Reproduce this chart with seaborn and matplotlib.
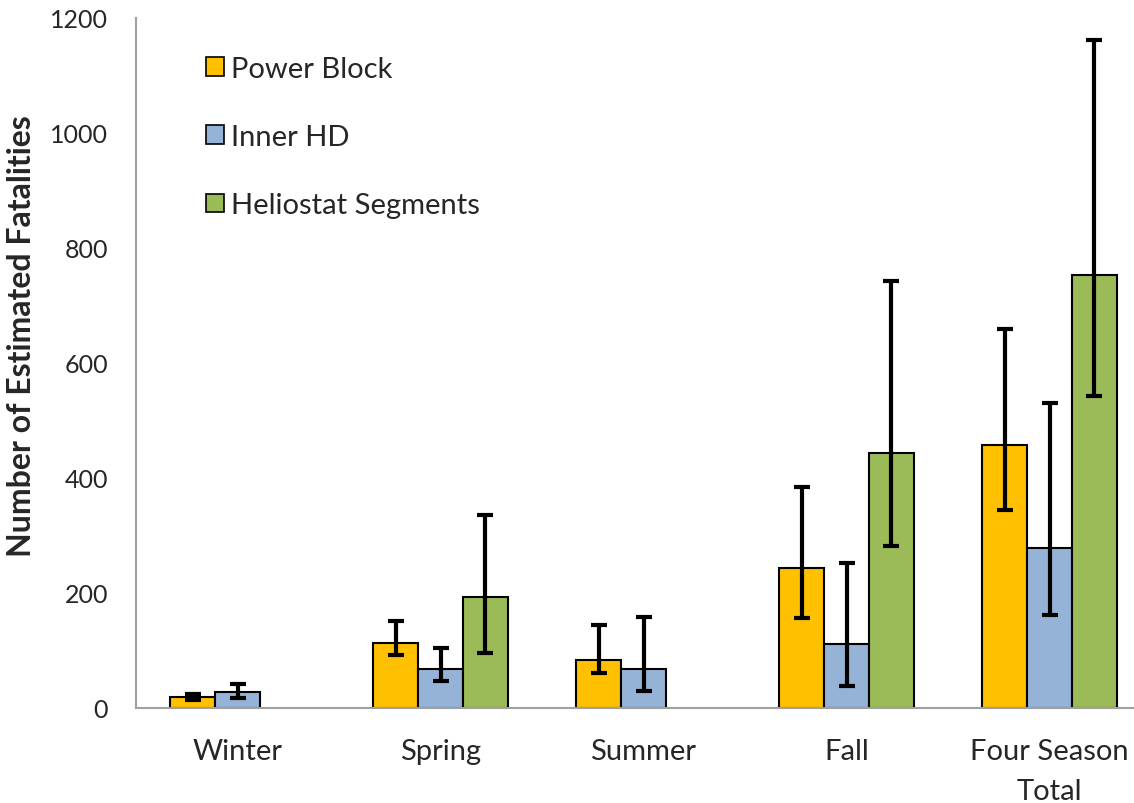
import matplotlib
matplotlib.use("Agg")
import matplotlib.pyplot as plt
import seaborn as sns
import pandas as pd
import numpy as np
from matplotlib.patches import Patch

seasons = ["Winter", "Spring", "Summer", "Fall", "Four Season\nTotal"]
series = ["Power Block", "Inner HD", "Heliostat Segments"]

power_block = [19, 113, 84, 243, 457]
power_block_lo = [14, 92, 61, 156, 345]
power_block_hi = [25, 152, 144, 385, 659]

inner_hd = [27, 68, 67, 112, 278]
inner_hd_lo = [17, 47, 30, 38, 161]
inner_hd_hi = [41, 105, 159, 252, 531]

heliostat = [np.nan, 193, np.nan, 443, 753]
heliostat_lo = [np.nan, 95, np.nan, 282, 543]
heliostat_hi = [np.nan, 336, np.nan, 742, 1161]

colors = ["#FFC000", "#95B3D7", "#9BBB59"]

vals = {"Power Block": (power_block, power_block_lo, power_block_hi),
        "Inner HD": (inner_hd, inner_hd_lo, inner_hd_hi),
        "Heliostat Segments": (heliostat, heliostat_lo, heliostat_hi)}

rows = []
for s in series:
    v, lo, hi = vals[s]
    for i, c in enumerate(seasons):
        if not np.isnan(v[i]):
            rows.append({"season": c, "series": s, "value": v[i], "lo": lo[i], "hi": hi[i]})
df = pd.DataFrame(rows)

sns.set_style("white")
plt.rcParams["font.family"] = ["Lato", "DejaVu Sans"]

fig = plt.figure(figsize=(11.34, 8.04), dpi=100)
ax = fig.add_axes([136/1134, 95/804, 1015/1134, 690/804])

sns.barplot(data=df, x="season", y="value", hue="series", order=seasons,
            hue_order=series, palette=colors, saturation=1, width=0.665, errorbar=None,
            edgecolor="black", linewidth=1.5, ax=ax, legend=False)

# error bars
for cont, s in zip(ax.containers, series):
    v, lo, hi = vals[s]
    for bar in cont:
        h = bar.get_height()
        if np.isnan(h):
            continue
        xc = bar.get_x() + bar.get_width() / 2
        i = int(round(xc))
        ax.errorbar(xc, v[i], yerr=[[v[i] - lo[i]], [hi[i] - v[i]]],
                    fmt="none", ecolor="black", elinewidth=3, capsize=6,
                    capthick=3, zorder=5)

ax.set_xlim(-0.5, 4.5)
ax.set_ylim(0, 1200)
ax.set_yticks(range(0, 1201, 200))
ax.set_xlabel("")
ax.set_ylabel("Number of Estimated Fatalities", fontsize=23, fontweight="bold")
ax.yaxis.set_label_coords(-100/1015, (709 - 336) / 690)

ax.set_xticks(range(len(seasons)))
ax.set_xticklabels(seasons, fontsize=21, linespacing=1.65)
ax.set_xticks(np.arange(-0.5, 4.6, 1.0), minor=True)
ax.tick_params(axis="x", which="major", length=0, pad=21.5)
ax.tick_params(axis="x", which="minor", length=8, width=1.2, color="#A0A0A0", direction="out")
ax.tick_params(axis="y", length=8, width=1.2, color="#A0A0A0", direction="out",
               labelsize=18, pad=12)

for sp in ["top", "right"]:
    ax.spines[sp].set_visible(False)
for sp in ["left", "bottom"]:
    ax.spines[sp].set_color("#A0A0A0")
    ax.spines[sp].set_linewidth(1.5)

handles = [Patch(facecolor=c, edgecolor="black", linewidth=1.2, label=s)
           for c, s in zip(colors, series)]
leg = ax.legend(handles=handles, loc="upper left", bbox_to_anchor=(58/1015, 1 - 26/690),
                frameon=False, fontsize=21, labelspacing=1.45, handlelength=0.62,
                handleheight=0.62, handletextpad=0.25, borderaxespad=0)

fig.savefig("out.png", dpi=100)
